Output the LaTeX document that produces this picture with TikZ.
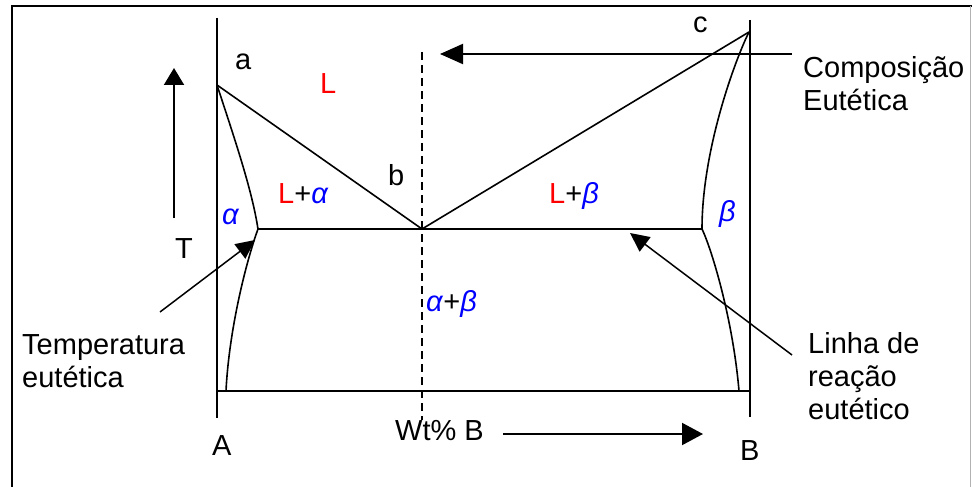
\documentclass[tikz,border=0pt]{standalone}
\usepackage{fontspec}
\setmainfont{Liberation Sans}
\usetikzlibrary{arrows.meta}
\definecolor{lred}{RGB}{255,0,0}
\definecolor{lblue}{RGB}{0,0,255}
\newcommand{\ga}{\textcolor{lblue}{\textit{α}}}
\newcommand{\gb}{\textcolor{lblue}{\textit{β}}}
\begin{document}
\begin{tikzpicture}[x=1pt,y=-1pt,
  lbl/.style={anchor=base west,inner sep=0pt,font=\fontsize{29}{33}\selectfont},
  mlbl/.style={anchor=north west,inner sep=0pt,align=left,font=\fontsize{29}{33}\selectfont},
  axis/.style={line width=2pt},
  curve/.style={line width=1.6pt},
  ptr/.style={line width=1.5pt,-{Triangle[length=19pt,width=18pt]}}]
\useasboundingbox (0,0) rectangle (972,487);
\fill[white] (0,0) rectangle (972,487);
% frame
\draw[line width=2pt] (12,490) -- (12,6) -- (972,6);
\draw[gray!60,line width=1pt] (970,6) -- (970,490);
% key coordinates
\coordinate (a) at (217,85);
\coordinate (e) at (422,229);
\coordinate (c) at (749,32);
\coordinate (sl) at (258,229);
\coordinate (sr) at (702,229);
\coordinate (bl) at (226,391);
\coordinate (br) at (739,391);
\coordinate (atop) at (217,18);
\coordinate (abot) at (217,418);
\coordinate (btop) at (750,20);
\coordinate (bbot) at (750,417);
\coordinate (baseL) at (217,391);
\coordinate (baseR) at (750,391);
\coordinate (dtop) at (422,52);
\coordinate (dbot) at (422,420);
% axes
\draw[axis] (atop) -- (abot);
\draw[axis] (btop) -- (bbot);
\draw[axis] (baseL) -- (baseR);
\draw[line width=1.5pt,dash pattern=on 8pt off 5pt] (dtop) -- (dbot);
% phase boundaries
\draw[curve] (a) -- (e) -- (c);
\draw[axis] (sl) -- (sr);
\draw[curve] (a) .. controls (235,140) and (252,190) .. (sl);
\draw[curve] (sl) .. controls (246,262) and (229,330) .. (bl);
\draw[curve] (c) .. controls (735,60) and (702,150) .. (sr);
\draw[curve] (sr) .. controls (712,250) and (733,320) .. (br);
% labels
\node[lbl] (la) at (235,70) {a};
\node[lbl] (lL) at (320,93) {\textcolor{lred}{L}};
\node[lbl] (lb) at (388,185) {b};
\node[lbl] (lLa) at (278,203) {\textcolor{lred}{L}+\ga};
\node[lbl] (lalpha) at (222,224) {\ga};
\node[lbl] (lc) at (693,33) {c};
\node[lbl] (lLb) at (549,203) {\textcolor{lred}{L}+\gb};
\node[lbl] (lbeta) at (719,221) {\gb};
\node[lbl] (lab) at (426,311) {\ga+\gb};
\node[lbl] (lT) at (175,258) {T};
\node[lbl] (lA) at (212,455) {A};
\node[lbl] (lB) at (740,460) {B};
\node[lbl] (lwt) at (395,440) {Wt\% B};
\node[mlbl] (ltemp) at (22,334) {Temperatura\\eutética};
\node[mlbl] (lcomp) at (803,56) {Composição\\Eutética};
\node[mlbl] (llinha) at (808,332) {Linha de\\reação\\eutético};
% pointers
\coordinate (tS) at (174,218);
\coordinate (tE) at (174,68);
\draw[line width=2pt,-{Triangle[length=17pt,width=20pt]}] (tS) -- (tE);
\coordinate (wS) at (503,434);
\coordinate (wE) at (703,434);
\draw[line width=2pt,-{Triangle[length=21pt,width=22pt]}] (wS) -- (wE);
\coordinate (cS) at (792,54);
\coordinate (cE) at (440,54);
\draw[line width=2pt,-{Triangle[length=23pt,width=20pt]}] (cS) -- (cE);
\coordinate (teS) at (160,312);
\coordinate (teE) at (255,240);
\draw[ptr] (teS) -- (teE);
\coordinate (liS) at (792,355);
\coordinate (liE) at (630,233);
\draw[ptr] (liS) -- (liE);
\end{tikzpicture}
\end{document}
